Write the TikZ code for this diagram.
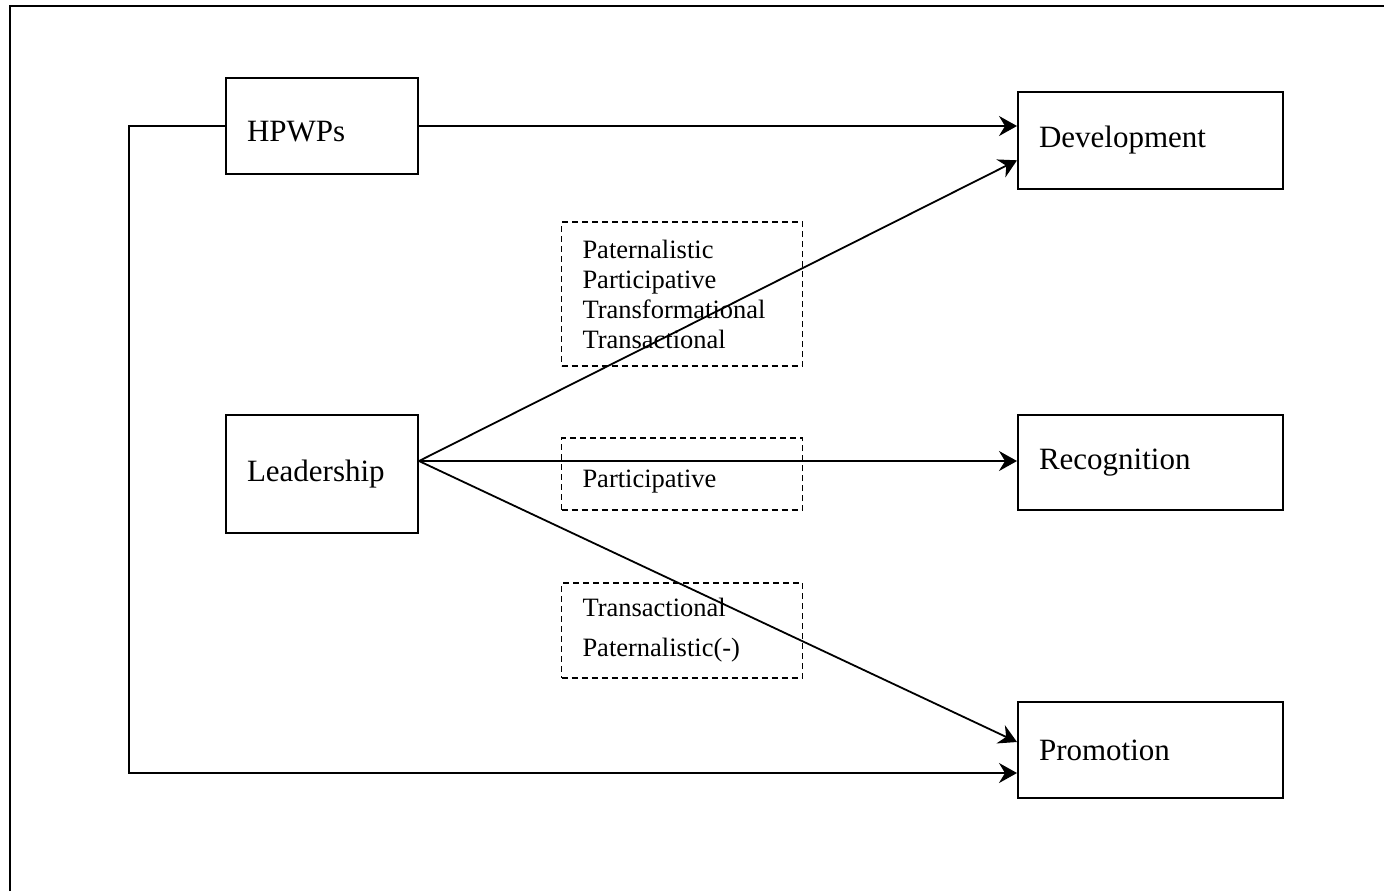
\documentclass[tikz,border=0pt]{standalone}
\usepackage{fontspec}
\setmainfont{Liberation Serif}
\usetikzlibrary{arrows.meta,positioning,calc}

\tikzset{
  varbox/.style={draw, line width=1pt, align=left, inner xsep=10.5pt,
                 font=\fontsize{15.5}{18}\selectfont},
  stylebox/.style={draw, dash pattern=on 3pt off 2pt, line width=0.75pt,
                   align=left, inner xsep=10.5pt, text width=99.5pt,
                   minimum width=120.5pt, font=\fontsize{13.25}{15}\selectfont},
  link/.style={-{Stealth[length=9pt,width=10pt,inset=3pt]}, line width=0.9pt}
}

\begin{document}
\begin{tikzpicture}[x=0.5pt, y=-0.5pt]
  \useasboundingbox (0,0) rectangle (1384,891);
  % outer frame
  \draw[line width=1pt] (10,891) -- (10,6) -- (1384,6);

  % predictors
  \node[varbox, text width=75pt, minimum height=48pt, text height=15.5pt] (hpwps) at (322,126) {HPWPs};
  \node[varbox, text width=75pt, minimum height=59pt] (lead) at (322,474) {Leadership};

  % outcomes
  \node[varbox, text width=111.5pt, minimum height=48.5pt] (dev) at (1150.5,140.5) {Development};
  \node[varbox, text width=111.5pt, minimum height=47.5pt] (rec) at (1150.5,462.5) {Recognition};
  \node[varbox, text width=111.5pt, minimum height=48pt] (prom) at (1150.5,750) {Promotion};

  % leadership styles
  \node[stylebox, minimum height=72pt] (sdev) at (682,294)
    {Paternalistic\\Participative\\Transformational\\Transactional};
  \node[stylebox, minimum height=36pt, text height=16pt] (srec) at (682,474) {Participative};
  \node[stylebox, minimum height=47.5pt, font=\fontsize{13.25}{20}\selectfont] (sprom) at (682,630.5)
    {Transactional\\Paternalistic(-)};

  % paths
  \coordinate (lsrc) at ($(lead.east)+(0,-13)$);
  \draw[link] (hpwps.east) -- (hpwps.east -| dev.west);
  \draw[link] (hpwps.west) -- ++(-96,0) |- ($(prom.west)+(0,23)$);
  \draw[link] (lsrc) -- ($(dev.south west)!0.3!(dev.north west)$);
  \draw[link] (lsrc) -- (lsrc -| rec.west);
  \draw[link] (lsrc) -- ($(prom.west)+(0,-8)$);
\end{tikzpicture}
\end{document}
